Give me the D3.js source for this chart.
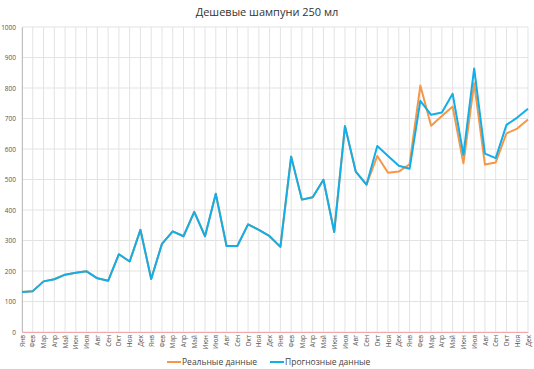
<!DOCTYPE html>
<html>
<head>
<meta charset="utf-8">
<script src="https://cdn.jsdelivr.net/npm/d3@7"></script>
<style>
  body { margin: 0; background: #fff; }
  text { font-family: "Open Sans", "Noto Sans", sans-serif; }
</style>
</head>
<body>
<div class="chart-wrapper"></div>
<script>
const monthNames = ['Янв', 'Фев', 'Мар', 'Апр', 'Май', 'Июн', 'Июл', 'Авг', 'Сен', 'Окт', 'Ноя', 'Дек']
const categories = [].concat(monthNames, monthNames, monthNames, monthNames)

// real data (hidden under forecast until the lines split)
const realValues = [131, 134, 166, 173, 188, 194, 199, 176, 168, 255, 231, 335,
  174, 289, 330, 314, 394, 314, 453, 282, 282, 353, 335, 314,
  279, 575, 434, 442, 499, 328, 675, 526, 483, 577, 522, 526,
  550, 808, 676, 708, 739, 553, 816, 549, 556, 651, 667, 697]

const forecastValues = [131, 134, 166, 173, 188, 194, 199, 176, 168, 255, 231, 335,
  174, 289, 330, 314, 394, 314, 453, 282, 282, 353, 335, 314,
  279, 575, 434, 442, 499, 328, 675, 526, 483, 610, 577, 545,
  535, 758, 712, 720, 781, 581, 864, 585, 570, 679, 703, 732]

const yTicks = [0, 100, 200, 300, 400, 500, 600, 700, 800, 900, 1000]

const seriesNames = ['Реальные данные', 'Прогнозные данные']
const colors = ['#F79646', '#12AEE8']

const width = 534
const height = 369
const margin = {top: 27, right: 6, bottom: 37, left: 22}

let svg = d3.select('.chart-wrapper').append('svg')
  .attr('width', width)
  .attr('height', height)

let x = d3.scalePoint()
  .domain(d3.range(categories.length))
  .range([margin.left, width - margin.right])

let y = d3.scaleLinear()
  .domain([0, 1000])
  .range([height - margin.bottom, margin.top])

// title
svg.append('text')
  .attr('x', width / 2)
  .attr('y', 16)
  .attr('text-anchor', 'middle')
  .style('font-size', '11px')
  .style('fill', '#333')
  .text('Дешевые шампуни 250 мл')

// horizontal grid
svg.append('g')
  .selectAll('line')
  .data(yTicks)
  .enter()
  .append('line')
  .attr('x1', margin.left)
  .attr('x2', width - margin.right)
  .attr('y1', d => y(d))
  .attr('y2', d => y(d))
  .attr('stroke', '#e3e3e3')
  .attr('stroke-width', 1)

// vertical grid
svg.append('g')
  .selectAll('line')
  .data(d3.range(categories.length))
  .enter()
  .append('line')
  .attr('x1', d => x(d))
  .attr('x2', d => x(d))
  .attr('y1', y(1000))
  .attr('y2', y(0))
  .attr('stroke', '#e3e3e3')
  .attr('stroke-width', 1)

// y axis
let yAxis = d3.axisLeft(y)
  .tickValues(yTicks)
  .tickFormat(d3.format('d'))
  .tickSize(0)
  .tickPadding(6)
let yg = svg.append('g')
  .attr('transform', `translate(${margin.left},0)`)
  .call(yAxis)
yg.select('.domain').attr('stroke', '#bfbfbf')
yg.selectAll('text')
  .style('font-size', '6.5px')
  .style('fill', '#555')

// x axis
let xAxis = d3.axisBottom(x)
  .tickFormat(i => categories[i])
  .tickSize(0)
let xg = svg.append('g')
  .attr('transform', `translate(0,${y(0)})`)
  .call(xAxis)
xg.select('.domain').attr('stroke', '#f0a8a8')
xg.selectAll('text')
  .style('font-size', '6.5px')
  .style('fill', '#555')
  .attr('text-anchor', 'end')
  .attr('dy', '0.32em')
  .attr('transform', 'translate(0,3) rotate(-90)')
  .attr('x', 0)
  .attr('y', 0)

// lines
let line = d3.line()
  .x((d, i) => x(i))
  .y(d => y(d))

svg.append('path')
  .datum(realValues)
  .attr('d', line)
  .attr('fill', 'none')
  .attr('stroke', colors[0])
  .attr('stroke-width', 2)
  .attr('stroke-linejoin', 'round')

svg.append('path')
  .datum(forecastValues)
  .attr('d', line)
  .attr('fill', 'none')
  .attr('stroke', colors[1])
  .attr('stroke-width', 2)
  .attr('stroke-linejoin', 'round')

// legend
let legendX = [167, 270]
let legend = svg.append('g')
  .selectAll('g')
  .data(seriesNames)
  .enter()
  .append('g')
  .attr('transform', (d, i) => `translate(${legendX[i]},362)`)

legend.append('line')
  .attr('x1', 0)
  .attr('x2', 14)
  .attr('stroke', (d, i) => colors[i])
  .attr('stroke-width', 2)

legend.append('text')
  .attr('x', 15)
  .attr('dy', '0.35em')
  .style('font-size', '8.5px')
  .style('fill', '#444')
  .text(d => d)
</script>
</body>
</html>
